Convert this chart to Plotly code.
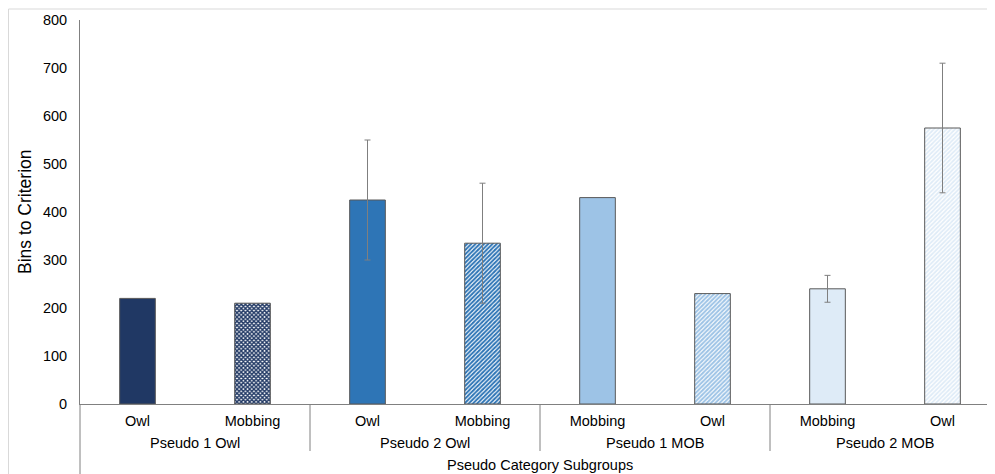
import plotly.graph_objects as go

groups = ["Pseudo 1 Owl", "Pseudo 1 Owl", "Pseudo 2 Owl", "Pseudo 2 Owl",
          "Pseudo 1 MOB", "Pseudo 1 MOB", "Pseudo 2 MOB", "Pseudo 2 MOB"]
subgroups = ["Owl", "Mobbing", "Owl", "Mobbing", "Mobbing", "Owl", "Mobbing", "Owl"]
bins = [220, 210, 425, 335, 430, 230, 240, 575]
err = [None, None, 125, 125, None, None, 28, 135]
y_ticks = [0, 100, 200, 300, 400, 500, 600, 700, 800]

colors = ["#203864", "#203864", "#2E75B6", "#2E75B6", "#9DC3E6", "#9DC3E6", "#DEEBF7", "#DEEBF7"]
patterns = ["", "x", "", "/", "", "/", "", "/"]
solidity = [0.5, 0.7, 0.5, 0.65, 0.5, 0.65, 0.5, 0.55]

FONT = "Liberation Sans, Arial, sans-serif"
FS = 14.5

pos = list(range(len(bins)))

group_names = []
group_members = {}
for p, g in zip(pos, groups):
    if g not in group_members:
        group_names.append(g)
        group_members[g] = []
    group_members[g].append(p)
group_centers = [sum(group_members[g]) / len(group_members[g]) for g in group_names]
boundaries = [max(group_members[g]) + 0.5 for g in group_names[:-1]]

fig = go.Figure()
# one trace per bar so that each bar keeps its own solid or hatched fill
for i in pos:
    fig.add_trace(go.Bar(
        x=[pos[i]], y=[bins[i]], width=0.31,
        marker=dict(color=colors[i], line=dict(color="#595959", width=1),
                    pattern=dict(shape=patterns[i], fgcolor=colors[i], bgcolor="white",
                                 size=3, solidity=solidity[i], fillmode="replace")),
        name=f"{groups[i]} / {subgroups[i]}",
        hovertemplate=f"{groups[i]} / {subgroups[i]}: " + "%{y}<extra></extra>",
        showlegend=False,
    ))

ix = [i for i, e in enumerate(err) if e is not None]
fig.add_trace(go.Scatter(
    x=[pos[i] for i in ix], y=[bins[i] for i in ix], mode="markers",
    marker=dict(size=1, color="rgba(0,0,0,0)"),
    error_y=dict(type="data", array=[err[i] for i in ix], color="#7F7F7F",
                 thickness=1, width=3),
    showlegend=False, hoverinfo="skip",
))

# the page adds an 8px body margin, so the figure starts at screen (8, 8)
H_PLOT = 384.0   # screen rows 20..404
W_PLOT = 915.0   # screen columns 80..995
def py(pix):
    return (404 - pix) / H_PLOT
def px(pix):
    return (pix - 80) / W_PLOT

annotations = []
for name, c in zip(group_names, group_centers):
    annotations.append(dict(text=name, x=c, xref="x", y=py(443), yref="paper",
                            xanchor="center", yanchor="middle", showarrow=False,
                            font=dict(size=FS, family=FONT, color="#000000")))
annotations.append(dict(text="Pseudo Category Subgroups", x=px(540), xref="paper",
                        y=py(465), yref="paper", xanchor="center", yanchor="middle",
                        showarrow=False, font=dict(size=FS, family=FONT, color="#000000")))
annotations.append(dict(text="Bins to Criterion", x=px(25), xref="paper",
                        y=py(212), yref="paper", xanchor="center", yanchor="middle",
                        textangle=-90, showarrow=False,
                        font=dict(size=17.5, family=FONT, color="#000000")))

shapes = [
    dict(type="line", xref="paper", yref="paper", x0=0, x1=0,
         y0=0, y1=py(474), line=dict(color="#808080", width=1)),
    dict(type="line", xref="paper", yref="paper", x0=px(8.5), x1=1.0,
         y0=py(9), y1=py(9), line=dict(color="#D9D9D9", width=1)),
    dict(type="line", xref="paper", yref="paper", x0=px(8.5), x1=px(8.5),
         y0=py(9), y1=py(474), line=dict(color="#D9D9D9", width=1)),
]
for b in boundaries:
    shapes.append(dict(type="line", xref="x", yref="paper", x0=b, x1=b,
                       y0=0, y1=py(451), line=dict(color="#808080", width=1)))

fig.update_layout(
    width=987, height=466,
    margin=dict(l=72, r=0, t=12, b=70),
    barmode="overlay",
    paper_bgcolor="white", plot_bgcolor="white",
    font=dict(family=FONT, size=FS, color="#000000"),
    xaxis=dict(
        range=[-0.5, 7.4565], automargin=False,
        tickvals=pos, ticktext=subgroups,
        showline=True, linecolor="#808080", linewidth=1,
        showgrid=False, zeroline=False, ticks="", ticklabelstandoff=4,
        tickfont=dict(size=FS, family=FONT, color="#000000"),
    ),
    yaxis=dict(
        range=[0, 800], tickvals=y_ticks, automargin=False,
        showgrid=False, zeroline=False,
        showline=True, linecolor="#808080", linewidth=1,
        ticks="", ticklabelstandoff=9,
        tickfont=dict(size=FS, family=FONT, color="#000000"),
    ),
    shapes=shapes,
    annotations=annotations,
)

fig.write_html("out.html")
